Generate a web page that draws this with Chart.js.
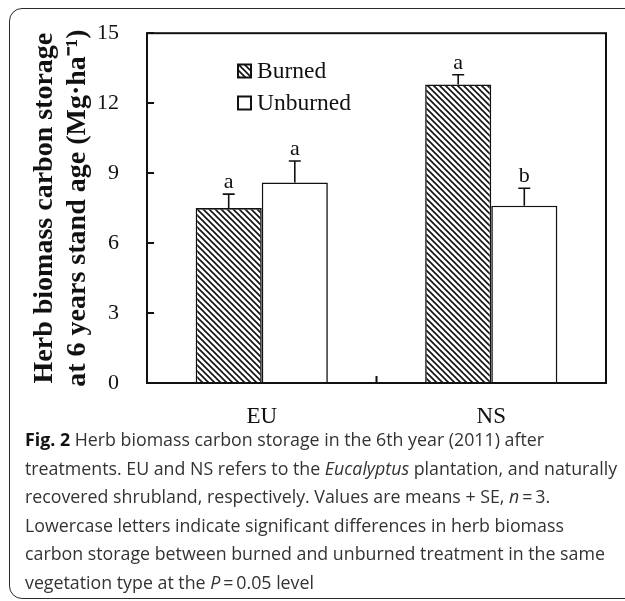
<!DOCTYPE html>
<html><head><meta charset="utf-8">
<script src="https://cdn.jsdelivr.net/npm/chart.js@4"></script>
<style>
html,body{margin:0;padding:0;background:#fff;width:625px;height:601px;overflow:hidden;}
#frame{position:absolute;left:9px;top:8px;width:650px;height:591px;border:1.4px solid #2a2a2a;border-radius:13px;box-sizing:border-box;}
#c{position:absolute;left:0;top:0;}
#caption{position:absolute;left:25px;top:425px;font-family:"Open Sans",sans-serif;font-size:17.8px;line-height:28.5px;color:#333;white-space:nowrap;}
#caption b{color:#111;}
</style></head>
<body>
<div id="frame"></div>
<canvas id="c" width="625" height="432"></canvas>
<div id="caption"><b>Fig. 2</b> Herb biomass carbon storage in the 6th year (2011) after<br>treatments. EU and NS refers to the <i>Eucalyptus</i> plantation, and naturally<br>recovered shrubland, respectively. Values are means + SE, <i>n</i>&thinsp;=&thinsp;3.<br>Lowercase letters indicate significant differences in herb biomass<br>carbon storage between burned and unburned treatment in the same<br>vegetation type at the <i>P</i>&thinsp;=&thinsp;0.05 level</div>
<script>
const categories = ['EU', 'NS'];
const seriesNames = ['Burned', 'Unburned'];
const burned = [7.5, 12.8];
const unburned = [8.6, 7.6];
const burnedSE = [0.6, 0.42];
const unburnedSE = [0.92, 0.75];
const burnedLetters = ['a', 'a'];
const unburnedLetters = ['a', 'b'];
const yTicks = [0, 3, 6, 9, 12, 15];
const yTitle = ['Herb biomass carbon storage', 'at 6 years stand age (Mg\u00b7ha\u207b\u00b9)'];

const serif = '"Liberation Serif", "Times New Roman", serif';

function hatch() {
  const s = 6, p = document.createElement('canvas');
  p.width = s; p.height = s;
  const g = p.getContext('2d');
  g.fillStyle = '#fff'; g.fillRect(0, 0, s, s);
  g.strokeStyle = '#111'; g.lineWidth = 1.6;
  g.beginPath();
  g.moveTo(-1, -1); g.lineTo(s + 1, s + 1);
  g.moveTo(-1, s - 1); g.lineTo(1, s + 1);
  g.moveTo(s - 1, -1); g.lineTo(s + 1, 1);
  g.stroke();
  return g.createPattern(p, 'repeat');
}
const ctx0 = document.getElementById('c').getContext('2d');
const pat = hatch();

const errs = [burnedSE, unburnedSE];
const letters = [burnedLetters, unburnedLetters];

const decor = {
  id: 'decor',
  afterDatasetsDraw(chart) {
    const {ctx, chartArea: a, scales: {x, y}} = chart;
    ctx.save();
    ctx.strokeStyle = '#111'; ctx.lineWidth = 1.6;
    chart.data.datasets.forEach((ds, i) => {
      const meta = chart.getDatasetMeta(i);
      meta.data.forEach((el, j) => {
        const top = y.getPixelForValue(ds.data[j] + errs[i][j]);
        ctx.beginPath();
        ctx.moveTo(el.x, el.y); ctx.lineTo(el.x, top);
        ctx.moveTo(el.x - 6, top); ctx.lineTo(el.x + 6, top);
        ctx.stroke();
        ctx.fillStyle = '#111';
        ctx.font = '22px ' + serif;
        ctx.textAlign = 'center'; ctx.textBaseline = 'alphabetic';
        ctx.fillText(letters[i][j], el.x, top - 6);
      });
    });
    ctx.lineWidth = 2;
    ctx.strokeRect(a.left, a.top, a.right - a.left, a.bottom - a.top);
    ctx.beginPath();
    yTicks.forEach(v => {
      const py = Math.round(y.getPixelForValue(v));
      ctx.moveTo(a.left, py); ctx.lineTo(a.left + 7, py);
    });
    const mx = (x.getPixelForValue(0) + x.getPixelForValue(1)) / 2;
    ctx.moveTo(mx, a.bottom); ctx.lineTo(mx, a.bottom - 7);
    ctx.stroke();
    const lx = 238, ly = [71, 103];
    chart.data.datasets.forEach((ds, i) => {
      ctx.fillStyle = ds.backgroundColor;
      ctx.fillRect(lx, ly[i] - 6.5, 13, 13);
      ctx.lineWidth = 2; ctx.strokeStyle = '#111';
      ctx.strokeRect(lx, ly[i] - 6.5, 13, 13);
      ctx.fillStyle = '#111';
      ctx.font = '23.5px ' + serif;
      ctx.textAlign = 'left'; ctx.textBaseline = 'middle';
      ctx.fillText(ds.label, lx + 19, ly[i] + 1);
    });
    ctx.restore();
  }
};

new Chart(ctx0, {
  type: 'bar',
  data: {
    labels: categories,
    datasets: [
      {label: seriesNames[0], data: burned, backgroundColor: pat, borderColor: '#111', borderWidth: 1.6},
      {label: seriesNames[1], data: unburned, backgroundColor: '#fff', borderColor: '#111', borderWidth: 1.6}
    ]
  },
  options: {
    responsive: false, animation: false, devicePixelRatio: 1,
    layout: {padding: {left: 0, right: 19, top: 33, bottom: 0}},
    datasets: {bar: {categoryPercentage: 0.576, barPercentage: 1.0}},
    plugins: {legend: {display: false}, tooltip: {enabled: false}},
    scales: {
      x: {
        grid: {display: false}, border: {display: false},
        ticks: {color: '#111', font: {family: serif, size: 23}, padding: 12},
        afterFit: s => { s.height = 49; }
      },
      y: {
        min: 0, max: 15,
        afterBuildTicks: s => { s.ticks = yTicks.map(v => ({value: v})); },
        grid: {display: false}, border: {display: false},
        ticks: {color: '#111', font: {family: serif, size: 22}, padding: 20},
        title: {display: true, text: yTitle, color: '#111',
          font: {family: serif, size: 28, weight: 'bold', lineHeight: 1.15},
          padding: {top: 29, bottom: 0}},
        afterFit: s => { s.width = 147; }
      }
    }
  },
  plugins: [decor]
});
</script>
</body></html>
